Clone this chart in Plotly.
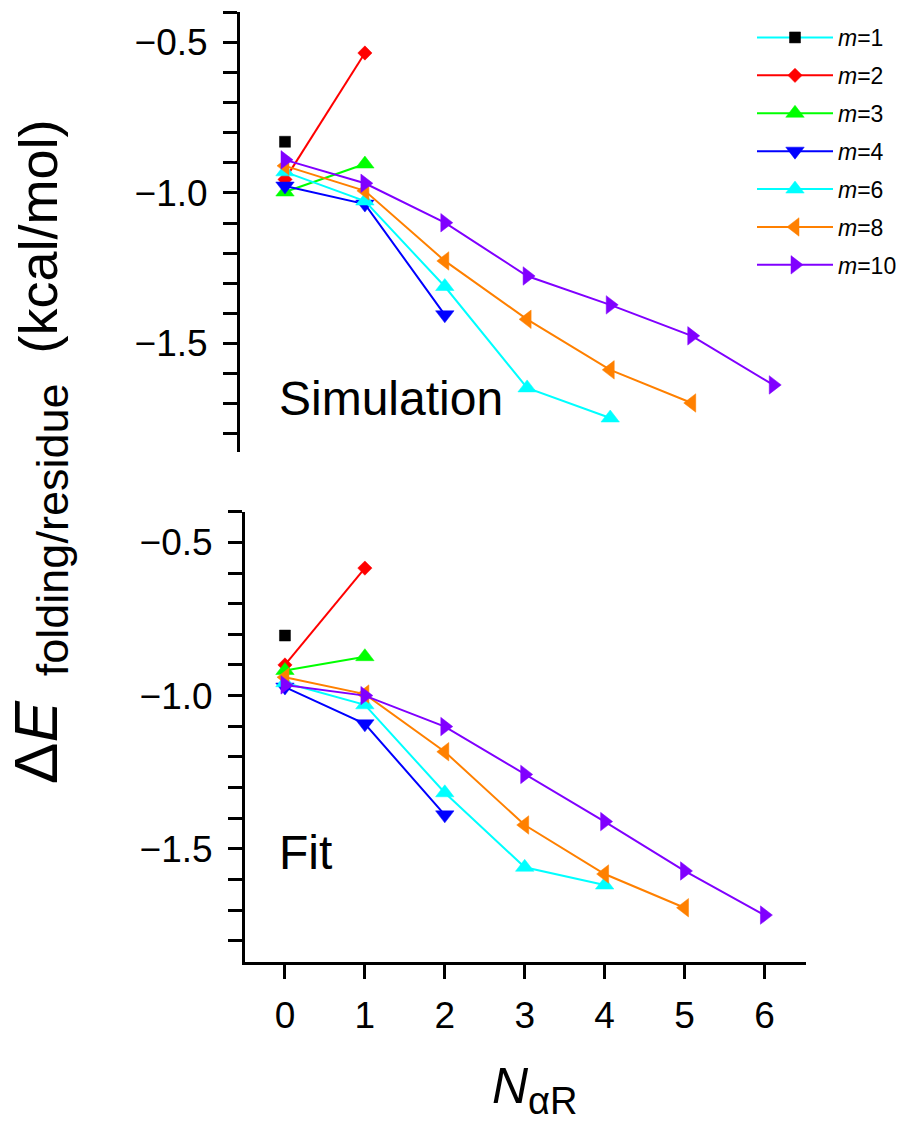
import plotly.graph_objects as go

# ---------------- data ----------------
labels = ["<i>m</i>=1", "<i>m</i>=2", "<i>m</i>=3", "<i>m</i>=4", "<i>m</i>=6", "<i>m</i>=8", "<i>m</i>=10"]
x_sim = [0, 1, 2, 3.03, 4.07, 5.09, 6.11]
x_fit = [0, 1, 2, 3, 4, 5, 6]

sim_m1 = [-0.83]
sim_m2 = [-0.955, -0.535]
sim_m3 = [-0.997, -0.904]
sim_m4 = [-0.977, -1.037, -1.405]
sim_m6 = [-0.93, -1.027, -1.311, -1.648, -1.748]
sim_m8 = [-0.91, -0.993, -1.226, -1.42, -1.588, -1.698]
sim_m10 = [-0.89, -0.968, -1.099, -1.276, -1.372, -1.475, -1.638]

fit_m1 = [-0.804]
fit_m2 = [-0.90, -0.584]
fit_m3 = [-0.918, -0.873]
fit_m4 = [-0.972, -1.092, -1.389]
fit_m6 = [-0.958, -1.03, -1.317, -1.56, -1.618]
fit_m8 = [-0.94, -0.995, -1.183, -1.422, -1.582, -1.692]
fit_m10 = [-0.965, -1.0, -1.101, -1.257, -1.411, -1.572, -1.716]

y_tickvals = [-0.4, -0.5, -0.6, -0.7, -0.8, -0.9, -1.0, -1.1, -1.2, -1.3, -1.4, -1.5, -1.6, -1.7, -1.8]
y_ticktext = ["", "\u22120.5", "", "", "", "", "\u22121.0", "", "", "", "", "\u22121.5", "", "", ""]
x_tickvals = [0, 1, 2, 3, 4, 5, 6]

# ---------------- styles ----------------
line_colors = ["#00FFFF", "#FF0000", "#00FF00", "#0000FF", "#00FFFF", "#FF8000", "#8000FF"]
marker_colors = ["#000000", "#FF0000", "#00FF00", "#0000FF", "#00FFFF", "#FF8000", "#8000FF"]
symbols = ["square", "diamond", "triangle-up", "triangle-down", "triangle-up", "triangle-left", "triangle-right"]
sizes = [11, 11, 16, 16, 16, 16, 16]

sim_sets = [sim_m1, sim_m2, sim_m3, sim_m4, sim_m6, sim_m8, sim_m10]
fit_sets = [fit_m1, fit_m2, fit_m3, fit_m4, fit_m6, fit_m8, fit_m10]

FONT = "Liberation Sans, Arial, sans-serif"
W, H = 904, 1130
OFF = 8  # page body margin


def fx(px):
    return (px - OFF) / W


def fy(py):
    return 1 - (py - OFF) / H


fig = go.Figure()

for i, ys in enumerate(sim_sets):
    fig.add_trace(go.Scatter(
        x=x_sim[:len(ys)], y=ys, mode="lines+markers", name=labels[i],
        legendgroup="g%d" % i,
        line=dict(color=line_colors[i], width=2),
        marker=dict(symbol=symbols[i], size=sizes[i], color=marker_colors[i],
                    line=dict(color=marker_colors[i], width=0.5)),
        xaxis="x2", yaxis="y2", showlegend=True))

for i, ys in enumerate(fit_sets):
    fig.add_trace(go.Scatter(
        x=x_fit[:len(ys)], y=ys, mode="lines+markers", name=labels[i],
        legendgroup="g%d" % i,
        line=dict(color=line_colors[i], width=2),
        marker=dict(symbol=symbols[i], size=sizes[i], color=marker_colors[i],
                    line=dict(color=marker_colors[i], width=0.5)),
        xaxis="x", yaxis="y", showlegend=False))

yax = dict(showline=True, linewidth=3, linecolor="black", ticks="outside",
           ticklen=14, tickwidth=2.5, tickcolor="black", tickvals=y_tickvals,
           ticktext=y_ticktext, tickfont=dict(family=FONT, size=37, color="black"),
           showgrid=False, zeroline=False, ticklabelstandoff=8)

ytitle = ("<span style='font-size:62px'>\u0394<i>E</i></span>"
          "<sub><span style='font-size:45px'>  folding/residue</span></sub>"
          "  (kcal/mol)")

fig.update_layout(
    width=W, height=H, autosize=False,
    margin=dict(l=0, r=0, t=0, b=0),
    paper_bgcolor="white", plot_bgcolor="white",
    font=dict(family=FONT, color="black"),
    xaxis=dict(domain=[fx(245), fx(806)], range=[-0.5, 6.52], anchor="y",
               showline=True, linewidth=3, linecolor="black", ticks="outside",
               ticklen=14, tickwidth=2.5, tickcolor="black", tickvals=x_tickvals,
               tickfont=dict(family=FONT, size=37, color="black"),
               showgrid=False, zeroline=False, ticklabelstandoff=5),
    yaxis=dict(domain=[fy(962), fy(511.7)], range=[-1.869, -0.4], anchor="x", **yax),
    xaxis2=dict(domain=[fx(240), fx(806)], range=[-0.563, 6.52], anchor="y2", visible=False),
    yaxis2=dict(domain=[fy(451.7), fy(12.4)], range=[-1.86, -0.4], anchor="x2", **yax),
    legend=dict(x=fx(752), y=fy(16), xanchor="left", yanchor="top",
                font=dict(family=FONT, size=23, color="black"),
                bgcolor="rgba(0,0,0,0)", tracegroupgap=5, itemwidth=76),
    annotations=[
        dict(text="Simulation", x=fx(277), y=fy(398), xref="paper", yref="paper",
             xanchor="left", yanchor="middle", showarrow=False,
             font=dict(family=FONT, size=48, color="black")),
        dict(text="Fit", x=fx(277), y=fy(852), xref="paper", yref="paper",
             xanchor="left", yanchor="middle", showarrow=False,
             font=dict(family=FONT, size=48, color="black")),
        dict(text=ytitle,
             x=fx(39), y=fy(452), xref="paper", yref="paper",
             xanchor="center", yanchor="middle", textangle=-90, showarrow=False,
             font=dict(family=FONT, size=54, color="black")),
        dict(text="<i>N</i><sub><span style='font-size:38px'>\u03b1R</span></sub>",
             x=fx(535), y=fy(1090), xref="paper", yref="paper", xanchor="center",
             yanchor="middle", showarrow=False,
             font=dict(family=FONT, size=50, color="black")),
    ],
)

fig.write_html("out.html")
